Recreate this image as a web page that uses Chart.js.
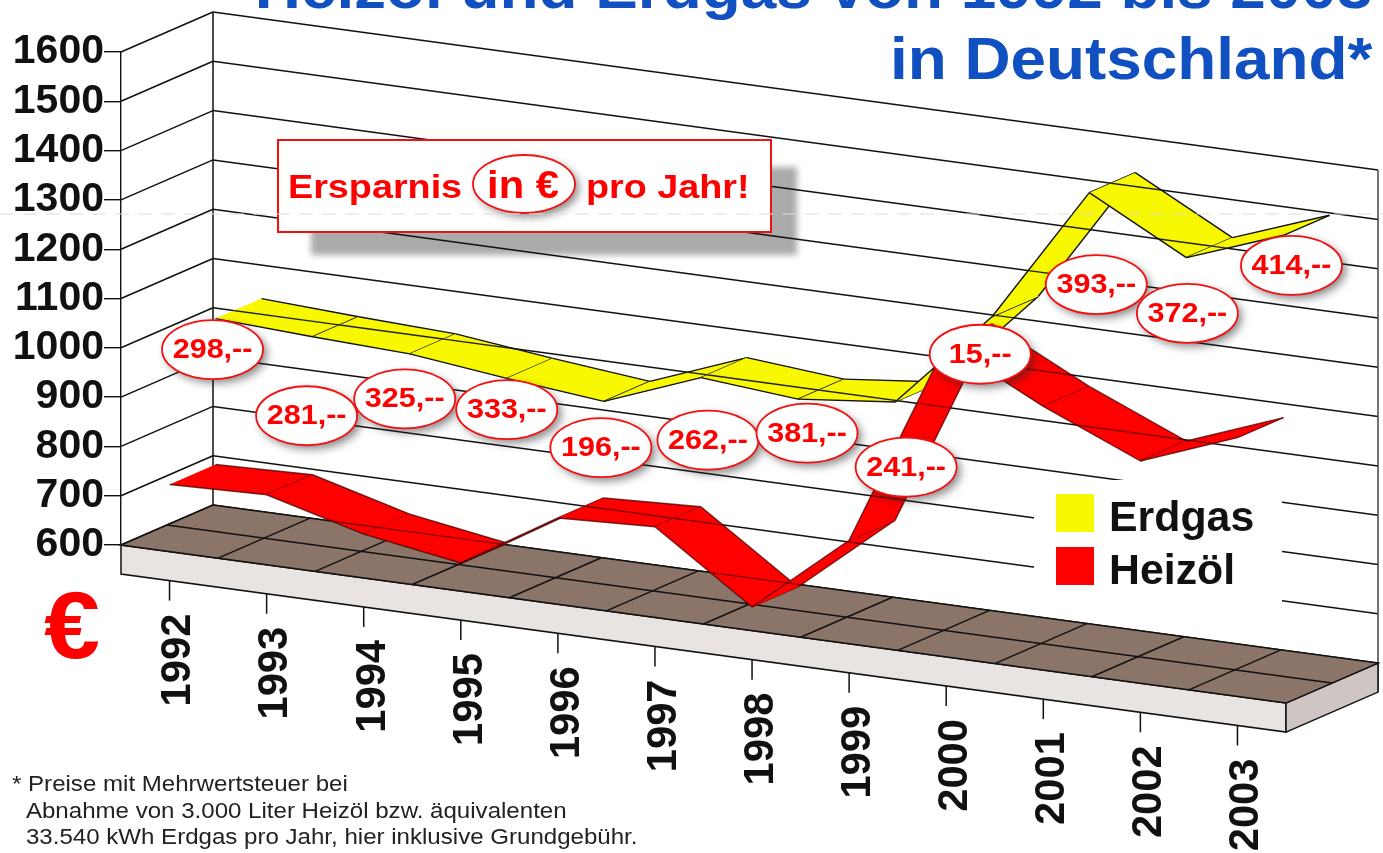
<!DOCTYPE html>
<html lang="de">
<head>
<meta charset="utf-8">
<title>Heizöl und Erdgas von 1992 bis 2003</title>
<script src="https://cdn.jsdelivr.net/npm/chart.js@4"></script>
<style>
  html, body { margin: 0; background: #fff; overflow: hidden; }
  #wrap { position: relative; width: 1383px; height: 853px; overflow: hidden; }
  #titel {
    position: absolute; top: -48px; right: 11px; text-align: right;
    transform: scaleX(1.064); transform-origin: right top;
    font: bold 60px/71px "Liberation Sans", Arial, sans-serif; color: #1050c0; white-space: nowrap;
  }
  #fussnote {
    position: absolute; left: 12px; top: 771px; transform: scaleX(1.07); transform-origin: left top;
    font: 22.5px/26.5px "Liberation Sans", Arial, sans-serif; color: #222; white-space: nowrap;
  }
  #fussnote span { display: block; margin-left: 13px; }
</style>
</head>
<body>
<div id="wrap">
  <canvas id="grafik" width="1383" height="853"></canvas>
  <div id="titel">Heizöl und Erdgas von 1992 bis 2003<br>in Deutschland*</div>
  <div id="fussnote">* Preise mit Mehrwertsteuer bei
    <span>Abnahme von 3.000 Liter Heizöl bzw. äquivalenten</span>
    <span>33.540 kWh Erdgas pro Jahr, hier inklusive Grundgebühr.</span>
  </div>
</div>
<script>
const jahre = ['1992', '1993', '1994', '1995', '1996', '1997', '1998', '1999', '2000', '2001', '2002', '2003'];
const erdgas = [1032, 1022, 1014, 991, 971, 1046, 1029, 1050, 1250, 1528, 1423, 1495];
const heizoel = [736, 742, 689, 657, 775, 784, 648, 810, 1235, 1135, 1051, 1125];
const ersparnis = ['298,--', '281,--', '325,--', '333,--', '196,--', '262,--', '381,--', '241,--', '15,--', '393,--', '372,--', '414,--'];

const GELB = '#f8f800';
const ROT = '#ff0000';
const SCHRIFT = '"Liberation Sans", Arial, sans-serif';

// Raumwirkung: Scherung der Wand und Tiefe des Bodens
const SCHERUNG = 0.1357;
const TIEFE_X = 92;
const TIEFE_Y = -40;
const SOCKEL = 29;

// Versatz der Ovale gegenueber der Mitte zwischen beiden Baendern
const ovalVersatz = [[-3, -42], [-6, 10], [-5, -35], [0, -51], [-3, -2], [7, -2], [9, -60], [11, 6], [-12, 34], [7, -5], [1, -36], [8, -61]];

function punkt(chart, i, wert, tiefe) {
  const x = chart.scales.x.getPixelForValue(i);
  const y = chart.scales.y.getPixelForValue(wert);
  return {
    x: x + tiefe * TIEFE_X,
    y: y + SCHERUNG * (x - chart.chartArea.left) + tiefe * TIEFE_Y
  };
}

// Punkt auf dem Boden, pos in Kategorien von der linken Kante
function boden(chart, pos, tiefe) {
  const { left, bottom } = chart.chartArea;
  const x = left + pos * chart.scales.x.width / jahre.length;
  return { x: x + tiefe * TIEFE_X, y: bottom + SCHERUNG * (x - left) + tiefe * TIEFE_Y };
}

function linie(ctx, a, b) {
  ctx.beginPath();
  ctx.moveTo(a.x, a.y);
  ctx.lineTo(b.x, b.y);
  ctx.stroke();
}

function flaeche(ctx, pts, farbe) {
  ctx.beginPath();
  pts.forEach((p, i) => i ? ctx.lineTo(p.x, p.y) : ctx.moveTo(p.x, p.y));
  ctx.closePath();
  if (farbe) {
    ctx.fillStyle = farbe;
    ctx.fill();
  }
}

// die Vorlage hat breit gezogene Schrift
function breitText(ctx, text, x, y, sx) {
  ctx.save();
  ctx.translate(x, y);
  ctx.scale(sx, 1);
  ctx.fillText(text, 0, 0);
  ctx.restore();
}

function wandlinien(chart, ctx) {
  const y = chart.scales.y;
  const hinten = boden(chart, 0, 1);
  const ende = boden(chart, jahre.length, 1);
  y.ticks.forEach(t => {
    const hoehe = y.getPixelForValue(t.value) - chart.chartArea.bottom;
    linie(ctx, { x: hinten.x, y: hinten.y + hoehe }, { x: ende.x, y: ende.y + hoehe });
  });
}

function zeichneRaum(chart) {
  const ctx = chart.ctx;
  const y = chart.scales.y;
  const n = jahre.length;
  const { bottom } = chart.chartArea;
  ctx.save();

  // Schatten des Hinweiskastens liegt unter den Linien
  ctx.save();
  ctx.filter = 'blur(3px)';
  ctx.fillStyle = '#aaaaaa';
  ctx.fillRect(311, 167, 486, 88);
  ctx.restore();

  ctx.strokeStyle = '#111';
  ctx.lineWidth = 1.5;

  // Seitenwand und Rueckwand
  y.ticks.forEach(t => {
    const hoehe = y.getPixelForValue(t.value) - bottom;
    const a = boden(chart, 0, 0);
    const b = boden(chart, 0, 1);
    linie(ctx, { x: a.x, y: a.y + hoehe }, { x: b.x, y: b.y + hoehe });
  });
  wandlinien(chart, ctx);
  const oben = y.getPixelForValue(y.max) - bottom;
  const hl = boden(chart, 0, 1);
  const hr = boden(chart, n, 1);
  linie(ctx, { x: hl.x, y: hl.y + oben }, hl);
  ctx.strokeStyle = '#444';
  linie(ctx, { x: hr.x, y: hr.y + oben }, { x: hr.x, y: hr.y + SOCKEL });
  ctx.strokeStyle = '#111';

  // freigestellte Flaeche hinter der Legende
  ctx.fillStyle = '#fff';
  ctx.fillRect(1034, 480, 248, 126);

  // Sockel und Boden
  const vl = boden(chart, 0, 0);
  const vr = boden(chart, n, 0);
  const unten = p => ({ x: p.x, y: p.y + SOCKEL });
  flaeche(ctx, [vl, vr, unten(vr), unten(vl)], '#e9e3e1');
  ctx.stroke();
  flaeche(ctx, [vr, hr, unten(hr), unten(vr)], '#cfc6c3');
  ctx.stroke();
  flaeche(ctx, [vl, hl, hr, vr], '#8b7468');
  ctx.stroke();
  linie(ctx, boden(chart, 0, 0.5), boden(chart, n, 0.5));
  for (let i = 1; i < n; i++) {
    linie(ctx, boden(chart, i, 0), boden(chart, i, 1));
  }

  // Jahresstriche und Beschriftung
  ctx.fillStyle = '#111';
  ctx.font = 'bold 43px ' + SCHRIFT;
  ctx.textAlign = 'right';
  ctx.textBaseline = 'middle';
  jahre.forEach((jahr, i) => {
    const p = unten(boden(chart, i + 0.5, 0));
    linie(ctx, p, { x: p.x, y: p.y + 20 });
    ctx.save();
    ctx.translate(p.x + 9, p.y + 33);
    ctx.rotate(-Math.PI / 2);
    breitText(ctx, jahr, 0, 0, 0.97);
    ctx.restore();
  });
  ctx.restore();
}

function zeichneBand(chart, werte, t0, t1, farbe, kante, falte, raster) {
  const ctx = chart.ctx;
  ctx.save();
  ctx.lineWidth = 1.4;
  for (let i = 0; i < werte.length - 1; i++) {
    const a = punkt(chart, i, werte[i], t0);
    const b = punkt(chart, i + 1, werte[i + 1], t0);
    const c = punkt(chart, i + 1, werte[i + 1], t1);
    const d = punkt(chart, i, werte[i], t1);
    flaeche(ctx, [a, b, c, d], farbe);
    // die Wandlinien scheinen durch das Band
    ctx.save();
    flaeche(ctx, [a, b, c, d]);
    ctx.clip();
    ctx.strokeStyle = raster;
    wandlinien(chart, ctx);
    ctx.restore();
    ctx.strokeStyle = kante;
    linie(ctx, a, b);
    linie(ctx, d, c);
    ctx.strokeStyle = falte;
    linie(ctx, b, c);
  }
  ctx.restore();
}

function oval(ctx, x, y, rx, ry) {
  ctx.save();
  ctx.shadowColor = 'rgba(40,40,40,0.55)';
  ctx.shadowBlur = 8;
  ctx.shadowOffsetX = 4;
  ctx.shadowOffsetY = 4;
  ctx.beginPath();
  ctx.ellipse(x, y, rx, ry, 0, 0, Math.PI * 2);
  ctx.fillStyle = '#fff';
  ctx.fill();
  ctx.restore();
  ctx.strokeStyle = '#f41010';
  ctx.lineWidth = 1.8;
  ctx.stroke();
}

function zeichneOvale(chart) {
  const ctx = chart.ctx;
  ctx.save();
  ctx.font = 'bold 27px ' + SCHRIFT;
  ctx.textAlign = 'center';
  ctx.textBaseline = 'middle';
  ersparnis.forEach((text, i) => {
    const mitte = punkt(chart, i, (erdgas[i] + heizoel[i]) / 2, 0.5);
    const x = mitte.x + ovalVersatz[i][0];
    const y = mitte.y + ovalVersatz[i][1];
    oval(ctx, x, y, 50.5, 29.5);
    ctx.fillStyle = ROT;
    breitText(ctx, text, x, y + 1, 1.13);
  });
  ctx.restore();
}

function zeichneHinweis(chart) {
  const ctx = chart.ctx;
  ctx.save();
  ctx.fillStyle = '#fff';
  ctx.fillRect(278, 140, 493, 92);
  ctx.strokeStyle = '#f41010';
  ctx.lineWidth = 2;
  ctx.strokeRect(278, 140, 493, 92);

  oval(ctx, 524, 184, 51, 29);
  ctx.fillStyle = ROT;
  ctx.font = 'bold 34px ' + SCHRIFT;
  ctx.textBaseline = 'alphabetic';
  ctx.textAlign = 'left';
  breitText(ctx, 'Ersparnis', 288, 198, 1.11);
  breitText(ctx, 'pro Jahr!', 586, 198, 1.11);
  ctx.font = 'bold 39px ' + SCHRIFT;
  ctx.textAlign = 'center';
  breitText(ctx, 'in €', 523, 198, 1.07);

  // Waehrungszeichen links
  ctx.font = 'bold 95px ' + SCHRIFT;
  ctx.textAlign = 'left';
  breitText(ctx, '€', 44, 658, 1.06);

  // Scan-Falz quer durchs Blatt
  ctx.strokeStyle = '#dedcd2';
  ctx.lineWidth = 1;
  ctx.setLineDash([14, 9]);
  linie(ctx, { x: 0, y: 214 }, { x: 1383, y: 214 });
  ctx.restore();
}

function zeichneLegende(chart) {
  const ctx = chart.ctx;
  ctx.save();
  ctx.font = 'bold 42px ' + SCHRIFT;
  ctx.textAlign = 'left';
  ctx.textBaseline = 'alphabetic';
  chart.data.datasets.forEach((ds, i) => {
    const y = 494 + i * 53;
    ctx.fillStyle = ds.backgroundColor;
    ctx.fillRect(1056, y, 38, 38);
    ctx.fillStyle = '#111';
    breitText(ctx, ds.label, 1109, y + 37, 1.02);
  });
  ctx.restore();
}

const raumPlugin = {
  id: 'raum',
  beforeDatasetsDraw(chart) {
    zeichneRaum(chart);
  },
  afterDatasetsDraw(chart) {
    zeichneBand(chart, erdgas, 0.5, 1, GELB, '#111', '#111', '#222');
    zeichneBand(chart, heizoel, 0, 0.5, ROT, 'rgba(70,0,0,0.75)', 'rgba(120,10,10,0.9)', 'rgba(110,0,0,0.85)');
    zeichneHinweis(chart);
    zeichneOvale(chart);
    zeichneLegende(chart);
  }
};

new Chart(document.getElementById('grafik').getContext('2d'), {
  type: 'line',
  data: {
    labels: jahre,
    datasets: [
      { label: 'Erdgas', data: erdgas, backgroundColor: GELB, borderColor: GELB, showLine: false, pointRadius: 0 },
      { label: 'Heizöl', data: heizoel, backgroundColor: ROT, borderColor: ROT, showLine: false, pointRadius: 0 }
    ]
  },
  options: {
    responsive: false,
    animation: false,
    layout: { autoPadding: false, padding: { top: 52, bottom: 308, right: 97, left: 0 } },
    plugins: { legend: { display: false }, tooltip: { enabled: false } },
    scales: {
      x: { display: false, offset: true },
      y: {
        min: 600,
        max: 1600,
        afterFit: s => { s.width = 121; },
        ticks: {
          stepSize: 100,
          autoSkip: false,
          color: '#111',
          padding: 0,
          font: { family: 'Liberation Sans', size: 41, weight: 'bold' },
          callback: v => String(v)
        },
        grid: { drawOnChartArea: false, color: '#111', lineWidth: 1.4, tickLength: 17 },
        border: { color: '#111', width: 1.4 }
      }
    }
  },
  plugins: [raumPlugin]
});
</script>
</body>
</html>
